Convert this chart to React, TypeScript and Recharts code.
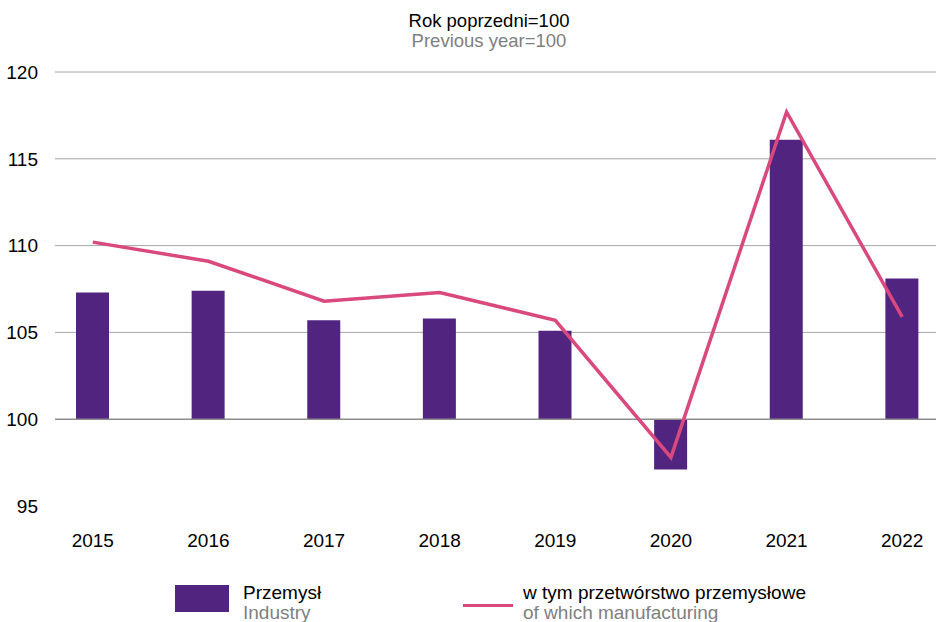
import { ComposedChart, Bar, Line, XAxis, YAxis, CartesianGrid, ReferenceLine } from 'recharts'

const years = ['2015', '2016', '2017', '2018', '2019', '2020', '2021', '2022']
const industry = [107.3, 107.4, 105.7, 105.8, 105.1, 97.1, 116.1, 108.1]
const manufacturing = [110.2, 109.1, 106.8, 107.3, 105.7, 97.8, 117.7, 105.9]
const yTicks = [95, 100, 105, 110, 115, 120]

const seriesNames = ['Przemysł', 'w tym przetwórstwo przemysłowe']
const seriesNamesEn = ['Industry', 'of which manufacturing']

const PURPLE = '#51247f'
const PINK = '#d9497e'
const FONT = '"Liberation Sans", Arial, sans-serif'

const data = years.map((y, i) => ({
  year: y,
  industry: industry[i],
  manufacturing: manufacturing[i],
}))

export default function App() {
  return (
    <div style={{ position: 'absolute', left: 0, top: 0, width: 936, height: 622, background: '#fff', fontFamily: FONT, overflow: 'hidden' }}>
      <div style={{ position: 'absolute', left: 369, width: 240, top: 11, textAlign: 'center', fontSize: 18.5, lineHeight: '20px' }}>
        <div style={{ color: '#000' }}>Rok poprzedni=100</div>
        <div style={{ color: '#808080' }}>Previous year=100</div>
      </div>

      <ComposedChart width={936} height={622} data={data} margin={{ top: 72, right: 0, bottom: 86, left: 0 }}>
        <CartesianGrid vertical={false} stroke="#a6a6a6" horizontalValues={[105, 110, 115, 120]} />
        <XAxis
          dataKey="year"
          axisLine={false}
          tickLine={false}
          tickMargin={22}
          height={30}
          padding={{ left: -20, right: -24 }}
          tick={{ fill: '#000', fontSize: 19, fontFamily: FONT }}
        />
        <YAxis
          domain={[95, 120]}
          ticks={yTicks}
          width={55}
          axisLine={false}
          tickLine={false}
          tickMargin={11}
          tick={{ fill: '#000', fontSize: 19, fontFamily: FONT }}
        />
        <ReferenceLine y={100} stroke="#8c8c8c" strokeWidth={1.5} />
        <Bar
          dataKey={(d: any) => [100, d.industry]}
          name={seriesNames[0]}
          fill={PURPLE}
          barSize={33}
          isAnimationActive={false}
        />
        <Line
          type="linear"
          dataKey="manufacturing"
          name={seriesNames[1]}
          stroke={PINK}
          strokeWidth={3.5}
          dot={false}
          activeDot={false}
          isAnimationActive={false}
        />
      </ComposedChart>

      <div style={{ position: 'absolute', left: 175, top: 585, width: 54, height: 27, background: PURPLE }} />
      <div style={{ position: 'absolute', left: 243, top: 583, fontSize: 19, lineHeight: '20px' }}>
        <div style={{ color: '#000' }}>{seriesNames[0]}</div>
        <div style={{ color: '#808080' }}>{seriesNamesEn[0]}</div>
      </div>
      <div style={{ position: 'absolute', left: 463, top: 604, width: 50, height: 3, background: PINK }} />
      <div style={{ position: 'absolute', left: 523, top: 583, fontSize: 19, lineHeight: '20px', whiteSpace: 'nowrap' }}>
        <div style={{ color: '#000' }}>{seriesNames[1]}</div>
        <div style={{ color: '#808080' }}>{seriesNamesEn[1]}</div>
      </div>
    </div>
  )
}
